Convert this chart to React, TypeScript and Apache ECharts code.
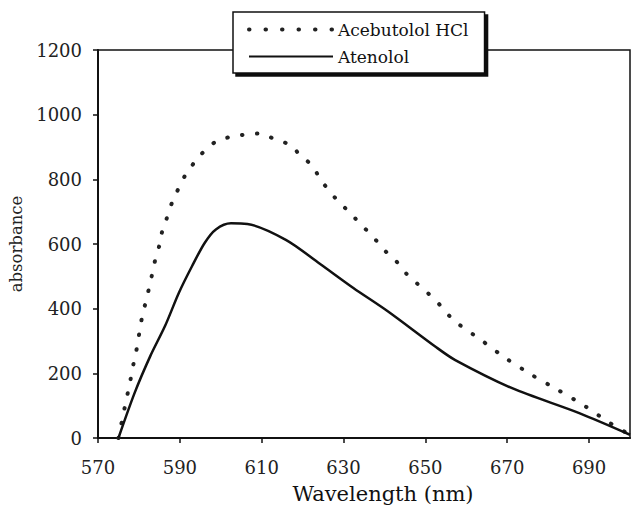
import React, { useEffect, useRef } from "react";
import * as echarts from "echarts";

// Acebutolol HCl (dotted curve)
const aceWavelength = [575, 576.5, 577.3, 578.0, 578.7, 579.6, 580.3, 581.0, 581.9, 582.6, 583.4, 584.1, 585.0, 585.6, 586.6, 587.3, 588.5, 591.2, 593.4, 595.4, 598.8, 602.3, 606.3, 609.8, 613.3, 617.3, 619.4, 622.5, 624.1, 628.0, 630.4, 632.8, 635.0, 637.9, 640.3, 642.8, 645.3, 647.7, 650.0, 652.5, 657.0, 663.2, 669.5, 676.0, 682.2, 689.2, 694.9, 700];
const aceAbsorbance = [0, 93, 141, 184, 231, 285, 342, 388, 431, 472, 516, 558, 596, 635, 671, 702, 740, 810, 850, 880, 917, 931, 939, 942, 923, 905, 873, 842, 804, 742, 711, 680, 651, 612, 577, 548, 509, 481, 455, 426, 363, 307, 248, 195, 150, 97, 48, 10];

// Atenolol (solid curve)
const atenWavelength = [575, 579.0, 582.8, 586.4, 589.8, 593.0, 596.1, 598.8, 602.5, 606.5, 615.9, 624.2, 632.4, 640.8, 652.4, 657.3, 671.2, 687.6, 700];
const atenAbsorbance = [0, 141, 254, 347, 450, 532, 604, 645, 664, 662, 613, 539, 464, 392, 283, 241, 154, 77, 10];

const wavelengthTicks = [570, 590, 610, 630, 650, 670, 690];
const seriesNames = ["Acebutolol HCl", "Atenolol"];

const FONT = "DejaVu Serif";

export default function App() {
  const ref = useRef<HTMLDivElement>(null);
  useEffect(() => {
    if (!ref.current) return;
    const chart = echarts.init(ref.current, null, { renderer: "svg" });
    const ace = aceWavelength.map((w, i) => [w, aceAbsorbance[i]]);
    const aten = atenWavelength.map((w, i) => [w, atenAbsorbance[i]]);
    chart.setOption({
      animation: false,
      backgroundColor: "#ffffff",
      grid: {
        left: 98,
        right: 6,
        top: 50,
        bottom: 78,
        show: true,
        borderColor: "#111",
        borderWidth: 1.5,
        backgroundColor: "transparent",
      },
      legend: {
        orient: "vertical",
        left: 233,
        top: 12,
        itemWidth: 84,
        itemHeight: 14,
        itemGap: 10,
        padding: [9, 16, 8, 14],
        backgroundColor: "#fff",
        borderColor: "#111",
        borderWidth: 1.5,
        borderRadius: 0,
        shadowColor: "#111",
        shadowBlur: 0,
        shadowOffsetX: 3,
        shadowOffsetY: 3,
        itemStyle: { opacity: 0 },
        textStyle: { fontFamily: FONT, fontSize: 17, color: "#111" },
        data: [
          { name: seriesNames[0], itemStyle: { opacity: 0 }, lineStyle: { type: [0.5, 16], width: 4, cap: "round", color: "#222" } },
          { name: seriesNames[1], itemStyle: { opacity: 0 } },
        ],
      },
      xAxis: {
        type: "value",
        min: 570,
        max: 700,
        name: "Wavelength (nm)",
        nameLocation: "middle",
        nameGap: 45,
        nameTextStyle: { fontFamily: FONT, fontSize: 21, color: "#111", padding: [0, 0, 0, 38] },
        axisLine: { show: true, onZero: false, lineStyle: { color: "#111", width: 2 } },
        axisTick: { show: true, length: 5, customValues: wavelengthTicks, lineStyle: { color: "#111", width: 1.5 } },
        axisLabel: { customValues: wavelengthTicks, margin: 20, fontFamily: FONT, fontSize: 18, color: "#222" },
        splitLine: { show: false },
      },
      yAxis: {
        type: "value",
        min: 0,
        max: 1200,
        interval: 200,
        name: "absorbance",
        nameLocation: "middle",
        nameGap: 60,
        nameTextStyle: { fontFamily: FONT, fontSize: 16.5, color: "#222" },
        axisLine: { show: true, lineStyle: { color: "#111", width: 2 } },
        axisTick: { show: true, length: 5, lineStyle: { color: "#111", width: 1.5 } },
        axisLabel: { margin: 16, fontFamily: FONT, fontSize: 18, color: "#222", formatter: (v: number) => String(v) },
        splitLine: { show: false },
      },
      series: [
        {
          name: seriesNames[0],
          type: "line",
          data: ace,
          symbol: "none",
          smooth: 0.25,
          lineStyle: { color: "#222", width: 4, type: [0.5, 14.5], cap: "round" },
          itemStyle: { color: "#222" },
        },
        {
          name: seriesNames[1],
          type: "line",
          data: aten,
          symbol: "none",
          smooth: 0.3,
          lineStyle: { color: "#111", width: 2.5 },
          itemStyle: { color: "#111" },
        },
      ],
    });
    return () => chart.dispose();
  }, []);
  return (
    <div
      ref={ref}
      style={{ position: "fixed", left: 0, top: 0, width: 636, height: 516, background: "#fff" }}
    />
  );
}
